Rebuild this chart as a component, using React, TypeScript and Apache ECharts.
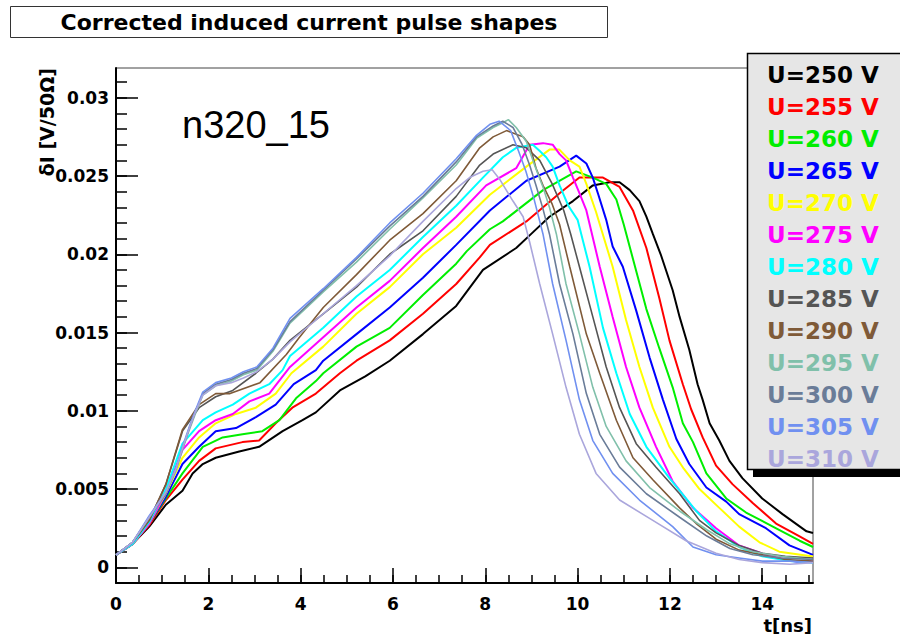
import React, { useEffect, useRef } from "react";
import * as echarts from "echarts";

type Pt = [number, number];

const seriesNames = [
  "U=250 V", "U=255 V", "U=260 V", "U=265 V", "U=270 V", "U=275 V", "U=280 V",
  "U=285 V", "U=290 V", "U=295 V", "U=300 V", "U=305 V", "U=310 V",
];
const seriesColors = [
  "#000000", "#ff0000", "#00ee00", "#0000ff", "#ffff00", "#ff00ff", "#00ffff",
  "#555555", "#7f5a38", "#80c0aa", "#6a7c98", "#7090f0", "#aaa6dc",
];

const u250: Pt[] = [[0,0.0008],[0.36,0.0015],[0.72,0.0026],[1.08,0.004],[1.44,0.0049],[1.66,0.006],[1.88,0.0066],[2.16,0.007],[2.67,0.0074],[3.1,0.0077],[3.61,0.0087],[4.04,0.0094],[4.33,0.0099],[4.85,0.0113],[5.4,0.0122],[5.93,0.0132],[6.65,0.0149],[7.37,0.0167],[7.95,0.019],[8.67,0.0204],[9.03,0.0214],[9.39,0.0224],[9.9,0.0234],[10.33,0.0244],[10.69,0.0246],[10.91,0.0246],[11.13,0.0241],[11.34,0.0234],[11.49,0.0224],[11.63,0.0213],[11.8,0.02],[12.06,0.0177],[12.21,0.016],[12.42,0.0139],[12.6,0.0117],[12.71,0.0107],[12.86,0.0092],[13.07,0.0081],[13.29,0.0068],[13.57,0.0057],[14.0,0.0044],[14.44,0.0034],[14.96,0.0023],[15.1,0.0022]];
const u255: Pt[] = [[0,0.0008],[0.36,0.0015],[0.72,0.0027],[1.08,0.0043],[1.44,0.0056],[1.8,0.0068],[2.16,0.0076],[2.74,0.008],[3.1,0.0081],[3.46,0.0092],[3.82,0.0102],[4.33,0.0111],[4.85,0.0124],[5.21,0.0132],[5.93,0.0145],[6.65,0.0162],[7.37,0.0181],[7.88,0.0198],[8.1,0.0206],[8.89,0.0221],[9.61,0.0239],[10.04,0.0249],[10.55,0.0249],[10.91,0.0243],[11.2,0.0228],[11.49,0.0204],[11.77,0.0172],[11.99,0.0145],[12.28,0.0117],[12.46,0.0101],[12.71,0.0083],[13.0,0.0065],[13.36,0.0053],[13.8,0.0041],[14.3,0.0028],[14.8,0.002],[15.1,0.0015]];
const u260: Pt[] = [[0,0.0008],[0.36,0.0015],[0.72,0.0028],[1.08,0.0044],[1.44,0.006],[1.88,0.0077],[2.31,0.0083],[2.74,0.0085],[3.17,0.0087],[3.54,0.0094],[3.9,0.0108],[4.33,0.0119],[4.49,0.0124],[5.21,0.0141],[5.93,0.0153],[6.65,0.0174],[7.37,0.0194],[7.6,0.0202],[8.1,0.0216],[8.38,0.0221],[9.25,0.0241],[9.97,0.0253],[10.33,0.0249],[10.62,0.0245],[10.84,0.0235],[11.0,0.0219],[11.2,0.0197],[11.49,0.0165],[11.77,0.014],[12.06,0.0115],[12.28,0.0092],[12.5,0.008],[12.79,0.006],[13.22,0.0044],[13.65,0.0035],[14.23,0.0026],[14.81,0.0017],[15.1,0.0013]];
const u265: Pt[] = [[0,0.0008],[0.36,0.0015],[0.72,0.0028],[1.08,0.0045],[1.44,0.0066],[1.8,0.0077],[2.16,0.0087],[2.6,0.0089],[3.03,0.0096],[3.46,0.0104],[3.85,0.0117],[4.33,0.0126],[4.49,0.0132],[5.21,0.0149],[5.93,0.0166],[6.65,0.0185],[7.37,0.0206],[8.1,0.0228],[8.89,0.0247],[9.61,0.0256],[9.97,0.0263],[10.19,0.0258],[10.33,0.0249],[10.45,0.0238],[10.62,0.0222],[10.76,0.0205],[10.98,0.0192],[11.27,0.0164],[11.56,0.0134],[11.85,0.0107],[12.14,0.0082],[12.42,0.0066],[12.79,0.0051],[13.22,0.0042],[13.5,0.0034],[14.08,0.0025],[14.59,0.0014],[15.1,0.0008]];
const u270: Pt[] = [[0,0.0008],[0.36,0.0015],[0.72,0.0028],[1.08,0.0047],[1.44,0.007],[1.8,0.0083],[2.16,0.0092],[2.6,0.0098],[3.03,0.0102],[3.46,0.0111],[3.8,0.0124],[4.49,0.0141],[5.21,0.0162],[5.93,0.0179],[6.65,0.02],[7.37,0.0217],[8.1,0.0238],[8.89,0.0256],[9.4,0.0267],[9.6,0.0267],[9.83,0.026],[10.04,0.0256],[10.19,0.0245],[10.4,0.0227],[10.76,0.0192],[11.05,0.0158],[11.34,0.0128],[11.63,0.0102],[11.99,0.0077],[12.3,0.0063],[12.64,0.005],[13.07,0.0038],[13.5,0.0026],[13.94,0.0016],[14.37,0.001],[15.1,0.0007]];
const u275: Pt[] = [[0,0.0008],[0.36,0.0015],[0.72,0.0028],[1.08,0.0048],[1.44,0.0075],[1.8,0.0087],[2.16,0.0094],[2.53,0.0098],[2.89,0.0106],[3.32,0.0111],[3.77,0.0128],[4.49,0.0147],[5.21,0.0166],[5.93,0.0183],[6.65,0.0204],[7.37,0.0224],[8.02,0.0244],[8.67,0.0255],[8.96,0.027],[9.25,0.0271],[9.46,0.027],[9.61,0.0264],[9.75,0.026],[9.9,0.0249],[10.04,0.0239],[10.19,0.0228],[10.48,0.0192],[10.76,0.016],[11.05,0.0128],[11.34,0.0102],[11.7,0.0077],[12.06,0.0055],[12.5,0.0038],[13.0,0.0025],[13.5,0.0014],[14.08,0.0008],[14.81,0.0003],[15.1,0.0004]];
const u280: Pt[] = [[0,0.0008],[0.36,0.0015],[0.72,0.0029],[1.08,0.005],[1.44,0.0079],[1.88,0.0094],[2.16,0.0099],[2.53,0.0104],[2.89,0.0111],[3.32,0.0117],[3.61,0.0126],[3.77,0.0135],[4.49,0.0153],[5.21,0.0173],[5.93,0.019],[6.65,0.0211],[7.37,0.0231],[7.95,0.0249],[8.38,0.0262],[8.67,0.0268],[9.03,0.027],[9.18,0.0266],[9.32,0.0262],[9.46,0.0256],[9.61,0.0244],[9.8,0.0231],[10.0,0.0222],[10.26,0.0192],[10.55,0.0153],[10.84,0.0124],[11.13,0.0098],[11.49,0.0077],[11.99,0.0057],[12.57,0.0036],[13.0,0.0023],[13.5,0.0013],[14.0,0.0007],[14.6,0.0004],[15.1,0.0003]];
const u285: Pt[] = [[0,0.0008],[0.36,0.0016],[0.72,0.003],[1.08,0.0053],[1.44,0.0087],[1.8,0.0102],[2.16,0.0109],[2.53,0.0113],[3.03,0.0124],[3.4,0.0133],[3.77,0.0145],[4.49,0.0162],[5.21,0.0179],[5.93,0.02],[6.65,0.0215],[7.37,0.0237],[7.88,0.0257],[8.17,0.0264],[8.6,0.027],[8.89,0.0268],[9.18,0.026],[9.45,0.0245],[9.7,0.0228],[9.85,0.0213],[10.04,0.0192],[10.33,0.016],[10.62,0.0128],[10.91,0.0102],[11.27,0.0079],[11.7,0.0064],[12.21,0.0047],[12.64,0.003],[13.0,0.0022],[13.5,0.0014],[14.0,0.0009],[14.5,0.0007],[15.1,0.0006]];
const u290: Pt[] = [[0,0.0008],[0.36,0.0016],[0.72,0.003],[1.08,0.0053],[1.44,0.0088],[1.8,0.0104],[2.16,0.0111],[2.47,0.0111],[3.12,0.0118],[3.69,0.0136],[3.95,0.0146],[4.49,0.0166],[5.21,0.0187],[5.93,0.0209],[6.65,0.0226],[7.37,0.0247],[7.88,0.0268],[8.17,0.0275],[8.46,0.0279],[8.82,0.0275],[8.96,0.027],[9.1,0.0255],[9.25,0.0244],[9.45,0.0232],[9.61,0.0219],[9.83,0.0192],[10.19,0.0149],[10.48,0.0124],[10.84,0.0094],[11.2,0.007],[11.63,0.0056],[12.21,0.0038],[12.57,0.0028],[13.0,0.0018],[13.5,0.0011],[14.0,0.0008],[14.5,0.0005],[15.1,0.0004]];
const u295: Pt[] = [[0,0.0008],[0.36,0.0016],[0.72,0.0032],[1.08,0.0047],[1.3,0.0062],[1.44,0.0075],[1.59,0.0088],[1.73,0.0099],[1.88,0.011],[2.16,0.0116],[2.5,0.0119],[2.76,0.0123],[3.05,0.0126],[3.4,0.0138],[3.77,0.0156],[4.49,0.0176],[5.21,0.0195],[5.93,0.0216],[6.65,0.0236],[7.37,0.0257],[7.81,0.0274],[8.17,0.0281],[8.38,0.0284],[8.5,0.0286],[8.67,0.0281],[8.89,0.0272],[9.08,0.0256],[9.25,0.0243],[9.39,0.023],[9.54,0.0213],[9.75,0.0181],[10.04,0.0149],[10.33,0.0115],[10.62,0.009],[11.05,0.0068],[11.56,0.0051],[12.21,0.0036],[12.8,0.0024],[13.3,0.0015],[13.8,0.001],[14.4,0.0007],[15.1,0.0005]];
const u300: Pt[] = [[0,0.0008],[0.36,0.0016],[0.72,0.0032],[1.08,0.0047],[1.3,0.0063],[1.44,0.0076],[1.59,0.0089],[1.73,0.01],[1.88,0.0111],[2.16,0.0117],[2.5,0.012],[2.76,0.0124],[3.05,0.0127],[3.4,0.0139],[3.77,0.0157],[4.49,0.0177],[5.21,0.0197],[5.93,0.0218],[6.65,0.0237],[7.37,0.0259],[7.81,0.0275],[8.17,0.0282],[8.38,0.0285],[8.6,0.0281],[8.8,0.027],[8.96,0.0257],[9.1,0.0244],[9.25,0.0229],[9.39,0.0213],[9.61,0.0181],[9.9,0.0149],[10.19,0.0111],[10.48,0.0085],[10.91,0.0064],[11.49,0.0047],[12.21,0.0032],[12.8,0.002],[13.3,0.0012],[13.8,0.0008],[14.4,0.0006],[15.1,0.0005]];
const u305: Pt[] = [[0,0.0008],[0.36,0.0016],[0.72,0.0033],[1.08,0.0048],[1.3,0.0063],[1.44,0.0077],[1.59,0.009],[1.73,0.0101],[1.88,0.0112],[2.16,0.0118],[2.5,0.0121],[2.76,0.0125],[3.05,0.0128],[3.4,0.014],[3.77,0.0159],[4.49,0.0178],[5.21,0.0198],[5.93,0.022],[6.65,0.0239],[7.37,0.0261],[7.81,0.0276],[8.1,0.0283],[8.3,0.0285],[8.55,0.0279],[8.72,0.0266],[8.88,0.0253],[9.05,0.0236],[9.25,0.0213],[9.46,0.0181],[9.75,0.0145],[10.04,0.0107],[10.33,0.0081],[10.76,0.006],[11.34,0.0043],[12.06,0.0026],[12.5,0.0013],[13.0,0.0008],[13.5,0.0006],[14.0,0.0004],[14.6,0.0004],[15.1,0.0003]];
const u310: Pt[] = [[0,0.0008],[0.36,0.0016],[0.72,0.0032],[1.08,0.0048],[1.3,0.0063],[1.44,0.0076],[1.59,0.0089],[1.73,0.01],[1.88,0.011],[2.16,0.0116],[2.5,0.0118],[2.76,0.0121],[3.05,0.0125],[3.4,0.0133],[3.77,0.0144],[4.49,0.0162],[5.21,0.018],[5.93,0.0199],[6.65,0.0221],[7.37,0.0242],[7.66,0.0249],[7.95,0.0253],[8.15,0.0254],[8.31,0.0248],[8.6,0.0234],[8.82,0.0224],[8.96,0.0208],[9.18,0.0181],[9.46,0.0149],[9.75,0.0115],[10.04,0.0085],[10.4,0.006],[10.91,0.0043],[11.63,0.003],[12.35,0.0017],[13.0,0.0009],[13.5,0.0005],[14.0,0.0003],[14.6,0.0002],[15.1,0.0003]];

const seriesData: Pt[][] = [u250, u255, u260, u265, u270, u275, u280, u285, u290, u295, u300, u305, u310];

const xMajorTicks = [0, 2, 4, 6, 8, 10, 12, 14];
const yMajorTicks = [0, 0.005, 0.01, 0.015, 0.02, 0.025, 0.03];
const xMinorTicks = Array.from({ length: 31 }, (_, i) => i * 0.5);
const yMinorTicks = Array.from({ length: 33 }, (_, i) => (i - 1) / 1000);

const titleText = "Corrected induced current pulse shapes";
const sampleLabel = "n320_15";
const xAxisTitle = "t[ns]";
const yAxisTitle = "δI [V/50Ω]";

const BOLD = "DejaVu Sans";

export default function App() {
  const ref = useRef<HTMLDivElement>(null);

  useEffect(() => {
    if (!ref.current) return;
    const chart = echarts.init(ref.current, undefined, { renderer: "svg" });

    const tickLabel = {
      fontFamily: BOLD,
      fontWeight: "bold" as const,
      fontSize: 17,
      color: "#000",
    };

    const option: any = {
      animation: false,
      backgroundColor: "#ffffff",
      grid: {
        left: 116,
        top: 68,
        width: 697,
        height: 515,
        show: true,
        borderColor: "#444",
        borderWidth: 1,
        backgroundColor: "transparent",
      },
      xAxis: [
        {
          type: "value",
          min: 0,
          max: 15.1,
          position: "bottom",
          axisLine: { show: true, onZero: false, lineStyle: { color: "#000", width: 2 } },
          axisTick: {
            show: true,
            inside: true,
            length: 15,
            customValues: xMajorTicks,
            lineStyle: { color: "#000", width: 1.5 },
          },
          axisLabel: {
            ...tickLabel,
            margin: 12,
            customValues: xMajorTicks,
            formatter: (v: number) => String(v),
          },
          splitLine: { show: false },
        },
        {
          type: "value",
          min: 0,
          max: 15.1,
          position: "bottom",
          axisLine: { show: false, onZero: false },
          axisTick: {
            show: true,
            inside: true,
            length: 8,
            customValues: xMinorTicks,
            lineStyle: { color: "#000", width: 1.5 },
          },
          axisLabel: { show: false },
          splitLine: { show: false },
        },
      ],
      yAxis: [
        {
          type: "value",
          min: -0.001,
          max: 0.0319,
          position: "left",
          axisLine: { show: true, onZero: false, lineStyle: { color: "#000", width: 2 } },
          axisTick: {
            show: true,
            inside: true,
            length: 22,
            customValues: yMajorTicks,
            lineStyle: { color: "#000", width: 1.5 },
          },
          axisLabel: {
            ...tickLabel,
            margin: 7,
            customValues: yMajorTicks,
            formatter: (v: number) => (v === 0 ? "0" : String(v)),
          },
          splitLine: { show: false },
        },
        {
          type: "value",
          min: -0.001,
          max: 0.0319,
          position: "left",
          axisLine: { show: false, onZero: false },
          axisTick: {
            show: true,
            inside: true,
            length: 11,
            customValues: yMinorTicks,
            lineStyle: { color: "#000", width: 1.5 },
          },
          axisLabel: { show: false },
          splitLine: { show: false },
        },
      ],
      legend: {
        orient: "vertical",
        left: 747,
        top: 53,
        padding: [10, 0, 0, 15],
        itemGap: 9,
        itemWidth: 0,
        itemHeight: 0,
        icon: "rect",
        selectedMode: false,
        z: 6,
        data: seriesNames.map((n, i) => ({ name: n, textStyle: { color: seriesColors[i] } })),
        textStyle: { fontFamily: BOLD, fontWeight: "bold", fontSize: 23, lineHeight: 23 },
      },
      series: seriesData.map((d, i) => ({
        name: seriesNames[i],
        type: "line",
        data: d,
        symbol: "none",
        showSymbol: false,
        clip: true,
        lineStyle: { color: seriesColors[i], width: i < 7 ? 2 : 1.6 },
        itemStyle: { color: seriesColors[i] },
        z: 2 + i * 0.01,
      })),
      graphic: [
        {
          type: "rect",
          z: 5,
          shape: { x: 747.5, y: 53.5, width: 160, height: 416 },
          style: { fill: "#e6e6e6", stroke: "#000", lineWidth: 1.5 },
        },
        {
          type: "rect",
          z: 7,
          shape: { x: 753, y: 470, width: 150, height: 7 },
          style: { fill: "#000" },
        },
        {
          type: "rect",
          z: 5,
          shape: { x: 10.5, y: 6.5, width: 597, height: 31 },
          style: { fill: "#fff", stroke: "#333", lineWidth: 1 },
        },
        {
          type: "text",
          z: 6,
          x: 309,
          y: 22,
          style: {
            text: titleText,
            fontFamily: BOLD,
            fontWeight: "bold",
            fontSize: 22,
            fill: "#000",
            align: "center",
            verticalAlign: "middle",
          },
        },
        {
          type: "text",
          z: 6,
          x: 182,
          y: 125,
          style: {
            text: sampleLabel,
            fontFamily: "Liberation Sans",
            fontSize: 38,
            fill: "#000",
            align: "left",
            verticalAlign: "middle",
          },
        },
        {
          type: "text",
          z: 6,
          x: 812,
          y: 625,
          style: {
            text: xAxisTitle,
            fontFamily: BOLD,
            fontWeight: "bold",
            fontSize: 18,
            fill: "#000",
            align: "right",
            verticalAlign: "middle",
          },
        },
        {
          type: "text",
          z: 6,
          x: 47,
          y: 68,
          rotation: Math.PI / 2,
          style: {
            text: yAxisTitle,
            fontFamily: BOLD,
            fontWeight: "bold",
            fontSize: 19,
            fill: "#000",
            align: "right",
            verticalAlign: "middle",
          },
        },
      ],
    };

    chart.setOption(option);
    return () => chart.dispose();
  }, []);

  return (
    <div
      ref={ref}
      style={{ position: "absolute", left: 0, top: 0, width: 900, height: 640, background: "#fff" }}
    />
  );
}
